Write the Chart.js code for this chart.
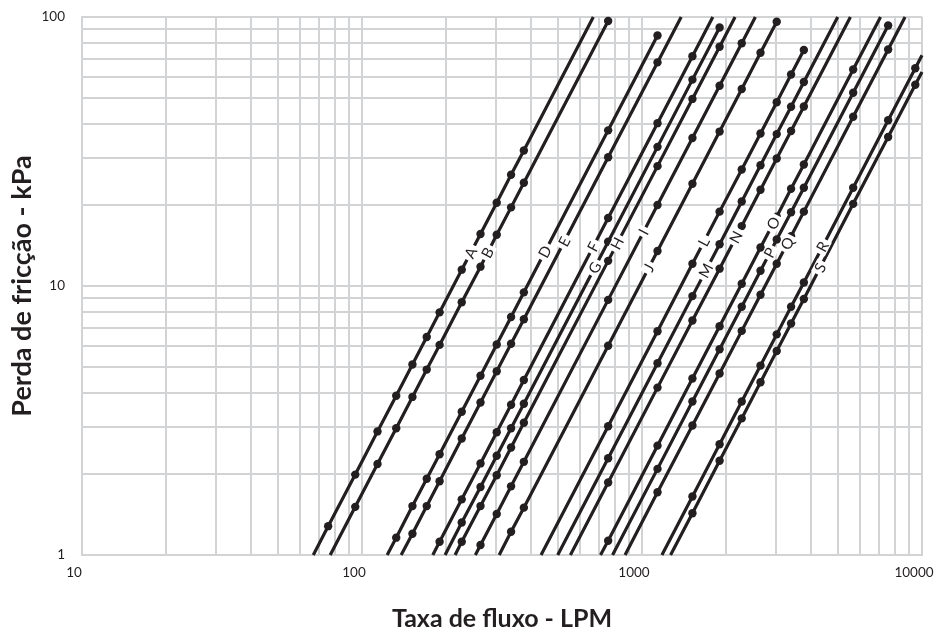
<!DOCTYPE html>
<html>
<head>
<meta charset="utf-8">
<script src="https://cdn.jsdelivr.net/npm/chart.js@4.4.1/dist/chart.umd.min.js"></script>
<style>
  html, body { margin: 0; padding: 0; background: #ffffff; }
  #wrap { width: 935px; height: 635px; }
</style>
</head>
<body>
<div id="wrap"><canvas id="c" width="935" height="635"></canvas></div>
<script>
// ---------- DATA (flow in LPM, friction loss in kPa) ----------
const lineNames = ['A','B','D','E','F','G','H','I','J','L','M','N','O','P','Q','R','S'];

const lineA = [[67,1],[75.7,1.28],[94.6,1.99],[113.6,2.88],[132.5,3.91],[151.4,5.11],[170.3,6.46],[189.3,7.98],[227.1,11.5],[265,15.6],[302.8,20.4],[340.7,25.9],[378.5,31.9],[670,100]];
const lineB = [[77,1],[94.6,1.51],[113.6,2.18],[132.5,2.96],[151.4,3.87],[170.3,4.89],[189.3,6.04],[227.1,8.70],[265,11.8],[302.8,15.5],[340.7,19.6],[378.5,24.2],[757,96.6]];
const lineD = [[123,1],[132.5,1.16],[151.4,1.52],[170.3,1.92],[189.3,2.37],[227.1,3.41],[265,4.64],[302.8,6.06],[340.7,7.67],[378.5,9.47],[757,37.9],[1136,85.3]];
const lineE = [[138,1],[151.4,1.20],[170.3,1.52],[189.3,1.88],[227.1,2.71],[265,3.69],[302.8,4.82],[340.7,6.10],[378.5,7.52],[757,30.1],[1136,67.8],[1380,100]];
const lineF = [[179,1],[189.3,1.12],[227.1,1.61],[265,2.19],[302.8,2.86],[340.7,3.62],[378.5,4.47],[757,17.9],[1136,40.3],[1514,71.5],[1790,100]];
const lineG = [[198,1],[227.1,1.32],[265,1.79],[302.8,2.34],[340.7,2.96],[378.5,3.65],[757,14.6],[1136,32.9],[1514,58.5],[1893,91.4]];
const lineH = [[215,1],[227.1,1.12],[265,1.52],[302.8,1.98],[340.7,2.51],[378.5,3.10],[757,12.4],[1136,27.9],[1514,49.6],[1893,77.5],[2150,100]];
const lineI = [[254,1],[265,1.09],[302.8,1.42],[340.7,1.80],[378.5,2.22],[757,8.88],[1136,20.0],[1514,35.5],[1893,55.5],[2271,79.9],[2540,100]];
const lineJ = [[309,1],[340.7,1.22],[378.5,1.50],[757,6.00],[1136,13.5],[1514,24.0],[1893,37.5],[2271,54.0],[2650,73.6],[3028,96.0]];
const lineL = [[436,1],[757,3.01],[1136,6.79],[1514,12.1],[1893,18.9],[2271,27.1],[2650,36.9],[3028,48.2],[3407,61.1],[3785,75.4]];
const lineM = [[500,1],[757,2.29],[1136,5.16],[1514,9.17],[1893,14.3],[2271,20.6],[2650,28.1],[3028,36.7],[3407,46.4],[3785,57.3],[5000,100]];
const lineN = [[555,1],[757,1.86],[1136,4.19],[1514,7.44],[1893,11.6],[2271,16.7],[2650,22.8],[3028,29.8],[3407,37.7],[3785,46.5],[5550,100]];
const lineO = [[711,1],[757,1.13],[1136,2.55],[1514,4.53],[1893,7.09],[2271,10.2],[2650,13.9],[3028,18.1],[3407,23.0],[3785,28.3],[5678,63.8],[7110,100]];
const lineP = [[785,1],[1136,2.09],[1514,3.72],[1893,5.82],[2271,8.37],[2650,11.4],[3028,14.9],[3407,18.8],[3785,23.2],[5678,52.3],[7570,93.0]];
const lineQ = [[870,1],[1136,1.71],[1514,3.03],[1893,4.73],[2271,6.81],[2650,9.28],[3028,12.1],[3407,15.3],[3785,18.9],[5678,42.6],[7570,75.7],[8700,100]];
const lineR = [[1178,1],[1514,1.65],[1893,2.58],[2271,3.72],[2650,5.06],[3028,6.61],[3407,8.37],[3785,10.3],[5678,23.2],[7570,41.3],[9463,64.5],[10000,72.1]];
const lineS = [[1265,1],[1514,1.43],[1893,2.24],[2271,3.22],[2650,4.39],[3028,5.73],[3407,7.25],[3785,8.95],[5678,20.2],[7570,35.8],[9463,56.0],[10000,62.5]];

// lines whose last point is a measured (dotted) point
const endsWithDot = ['B','D','G','J','L','P'];
// friction loss (kPa) where each letter sits on its line
const labelLoss = [13.3,13.3,13.4,14.6,14.0,11.7,14.4,15.9,11.7,14.6,11.4,15.2,17.1,13.3,14.4,14.0,11.7];

// grid / tick values
const xGridValues = [10,20,30,40,50,60,70,80,90,100,200,300,400,500,600,700,800,900,1000,2000,3000,4000,5000,6000,7000,8000,9000,10000];
const yGridValues = [1,2,3,4,5,6,7,8,9,10,20,30,40,50,60,70,80,90,100];
const xTickLabels = [10,100,1000,10000];
const yTickLabels = [1,10,100];

const xTitle = 'Taxa de fluxo - LPM';
const yTitle = 'Perda de fricção - kPa';

// ---------- STYLE ----------
const ink = '#231f20';
const gridGray = '#d1d3d4';
const FONT = "Lato, 'Open Sans', sans-serif";

const allLines = [lineA,lineB,lineD,lineE,lineF,lineG,lineH,lineI,lineJ,lineL,lineM,lineN,lineO,lineP,lineQ,lineR,lineS];

const datasets = allLines.map((pts, i) => {
  const name = lineNames[i];
  const n = pts.length;
  return {
    label: name,
    data: pts.map(p => ({ x: p[0], y: p[1] })),
    showLine: true,
    borderColor: ink,
    backgroundColor: ink,
    borderWidth: 3.2,
    tension: 0,
    pointBorderWidth: 0,
    pointRadius: (c) => {
      if (c.dataIndex === 0) return 0;
      if (c.dataIndex === n - 1 && !endsWithDot.includes(name)) return 0;
      return 4.2;
    },
    pointHoverRadius: 4.2,
    clip: 5
  };
});

const letterPlugin = {
  id: 'lineLetters',
  afterDatasetsDraw(chart) {
    const ctx = chart.ctx;
    const yS = chart.scales.y;
    chart.data.datasets.forEach((ds, i) => {
      const pts = chart.getDatasetMeta(i).data;
      const first = pts[0], last = pts[pts.length - 1];
      const ang = Math.atan2(last.y - first.y, last.x - first.x);
      const ty = yS.getPixelForValue(labelLoss[i]);
      let tx = null;
      for (let k = 0; k < pts.length - 1; k++) {
        const a = pts[k], b = pts[k + 1];
        if ((a.y - ty) * (b.y - ty) <= 0 && a.y !== b.y) {
          const t = (ty - a.y) / (b.y - a.y);
          tx = a.x + t * (b.x - a.x);
          break;
        }
      }
      if (tx === null) return;
      ctx.save();
      ctx.translate(tx, ty);
      ctx.rotate(ang);
      ctx.font = '15px ' + FONT;
      const w = ctx.measureText(ds.label).width;
      ctx.fillStyle = '#ffffff';
      ctx.fillRect(-w / 2 - 3, -6.5, w + 6, 13);
      ctx.fillStyle = ink;
      ctx.textAlign = 'center';
      ctx.textBaseline = 'middle';
      ctx.fillText(ds.label, 0, 0.5);
      ctx.restore();
    });
  }
};

Chart.defaults.font.family = FONT;
Chart.defaults.color = ink;

new Chart(document.getElementById('c'), {
  type: 'scatter',
  data: { datasets },
  plugins: [letterPlugin],
  options: {
    responsive: false,
    animation: false,
    devicePixelRatio: 1,
    layout: { padding: { top: 17, right: 13, left: 0, bottom: 0 } },
    plugins: { legend: { display: false }, tooltip: { enabled: false } },
    scales: {
      x: {
        type: 'logarithmic',
        min: 10, max: 10000,
        afterBuildTicks: (s) => { s.ticks = xGridValues.map(v => ({ value: v })); },
        afterFit: (s) => { s.height = 80; s.paddingLeft = 0; s.paddingRight = 0; },
        ticks: {
          autoSkip: false, maxRotation: 0, minRotation: 0,
          padding: 10, labelOffset: -8,
          font: { size: 13.5 }, color: ink,
          callback: (v) => xTickLabels.includes(v) ? String(v) : ''
        },
        grid: { color: gridGray, lineWidth: 2, drawTicks: false },
        border: { color: gridGray, width: 2 },
        title: { display: true, text: xTitle, color: ink, font: { size: 25, weight: 'bold' }, padding: { top: 0, bottom: 1 } }
      },
      y: {
        type: 'logarithmic',
        min: 1, max: 100,
        afterBuildTicks: (s) => { s.ticks = yGridValues.map(v => ({ value: v })); },
        afterFit: (s) => { s.width = 82; s.paddingTop = 0; s.paddingBottom = 0; },
        ticks: {
          autoSkip: false, padding: 17,
          font: { size: 13.5 }, color: ink,
          callback: (v) => yTickLabels.includes(v) ? String(v) : ''
        },
        grid: { color: gridGray, lineWidth: 2, drawTicks: false },
        border: { color: gridGray, width: 2 },
        title: { display: true, text: yTitle, color: ink, font: { size: 27, weight: 'bold' }, padding: { top: 6, bottom: 0 } }
      }
    }
  }
});
</script>
</body>
</html>
